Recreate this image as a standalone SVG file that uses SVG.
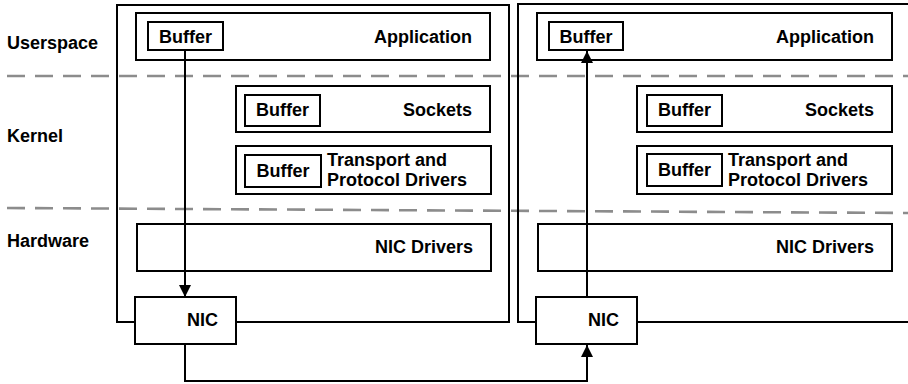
<svg xmlns="http://www.w3.org/2000/svg" width="908" height="384" viewBox="0 0 908 384">
<style>
text{font-family:"Liberation Sans",Arial,sans-serif;font-weight:bold;font-size:18px;fill:#000}
.b{fill:#fff;stroke:#000;stroke-width:2}
.o{fill:none;stroke:#000;stroke-width:2}
.e{text-anchor:end}
.m{text-anchor:middle}
.d{fill:none;stroke:#8c8c8c;stroke-width:2.6;stroke-dasharray:18 10}
.c{fill:none;stroke:#000;stroke-width:2}
</style>
<defs>
<marker id="ah" markerUnits="userSpaceOnUse" markerWidth="12" markerHeight="14" viewBox="0 0 12 14" refX="12" refY="6" orient="auto">
<path d="M0,0 L12,6 L0,12 Z" fill="#000"/>
</marker>
</defs>
<g id="labels">
<text x="7" y="49">Userspace</text>
<text x="7" y="142">Kernel</text>
<text x="7" y="247">Hardware</text>
</g>
<g id="layers">
<line class="d" x1="7" y1="76" x2="908" y2="76"/>
<line class="d" x1="7" y1="208" x2="908" y2="213"/>
</g>
<g id="host-left">
<rect class="o" x="117" y="5" width="392" height="317"/>
</g>
<g id="host-right">
<path class="o" d="M910,4 H518 V322 H910"/>
</g>
<g id="app-left">
<rect class="b" x="136" y="13" width="354" height="47"/>
<rect class="b" x="148" y="22" width="75" height="28"/>
<text class="m" x="185.5" y="43">Buffer</text>
<text class="e" x="472" y="43">Application</text>
</g>
<g id="sockets-left">
<rect class="b" x="236" y="86" width="254" height="46"/>
<rect class="b" x="245" y="95" width="75" height="31"/>
<text class="m" x="282.5" y="115.5">Buffer</text>
<text class="e" x="472" y="115.5">Sockets</text>
</g>
<g id="transport-left">
<rect class="b" x="236" y="146" width="255" height="48"/>
<rect class="b" x="245" y="155" width="76" height="32"/>
<text class="m" x="283" y="177">Buffer</text>
<text x="327" y="165.5">Transport and</text>
<text x="327" y="185.5">Protocol Drivers</text>
</g>
<g id="nicdrv-left">
<rect class="b" x="137" y="224" width="354" height="47"/>
<text class="e" x="473" y="253">NIC Drivers</text>
</g>
<g id="app-right">
<rect class="b" x="537" y="13" width="355" height="47"/>
<rect class="b" x="549" y="22" width="74" height="28"/>
<text class="m" x="586" y="43">Buffer</text>
<text class="e" x="874" y="43">Application</text>
</g>
<g id="sockets-right">
<rect class="b" x="637" y="86" width="255" height="46"/>
<rect class="b" x="647" y="95" width="75" height="31"/>
<text class="m" x="684.5" y="115.5">Buffer</text>
<text class="e" x="874" y="115.5">Sockets</text>
</g>
<g id="transport-right">
<rect class="b" x="637" y="146" width="255" height="48"/>
<rect class="b" x="647" y="154" width="75" height="32"/>
<text class="m" x="684.5" y="176">Buffer</text>
<text x="728" y="165.5">Transport and</text>
<text x="728" y="185.5">Protocol Drivers</text>
</g>
<g id="nicdrv-right">
<rect class="b" x="538" y="224" width="354" height="47"/>
<text class="e" x="874" y="253">NIC Drivers</text>
</g>
<g id="connectors">
<line class="c" x1="185" y1="50" x2="185" y2="297" marker-end="url(#ah)"/>
<line class="c" x1="587" y1="297" x2="587" y2="51" marker-end="url(#ah)"/>
<path class="c" d="M185,344 V381 H587 V345" marker-end="url(#ah)"/>
</g>
<g id="nic-left">
<rect class="b" x="135" y="297" width="101" height="47"/>
<text class="e" x="218" y="326">NIC</text>
</g>
<g id="nic-right">
<rect class="b" x="536" y="297" width="101" height="47"/>
<text class="e" x="619" y="326">NIC</text>
</g>
</svg>
